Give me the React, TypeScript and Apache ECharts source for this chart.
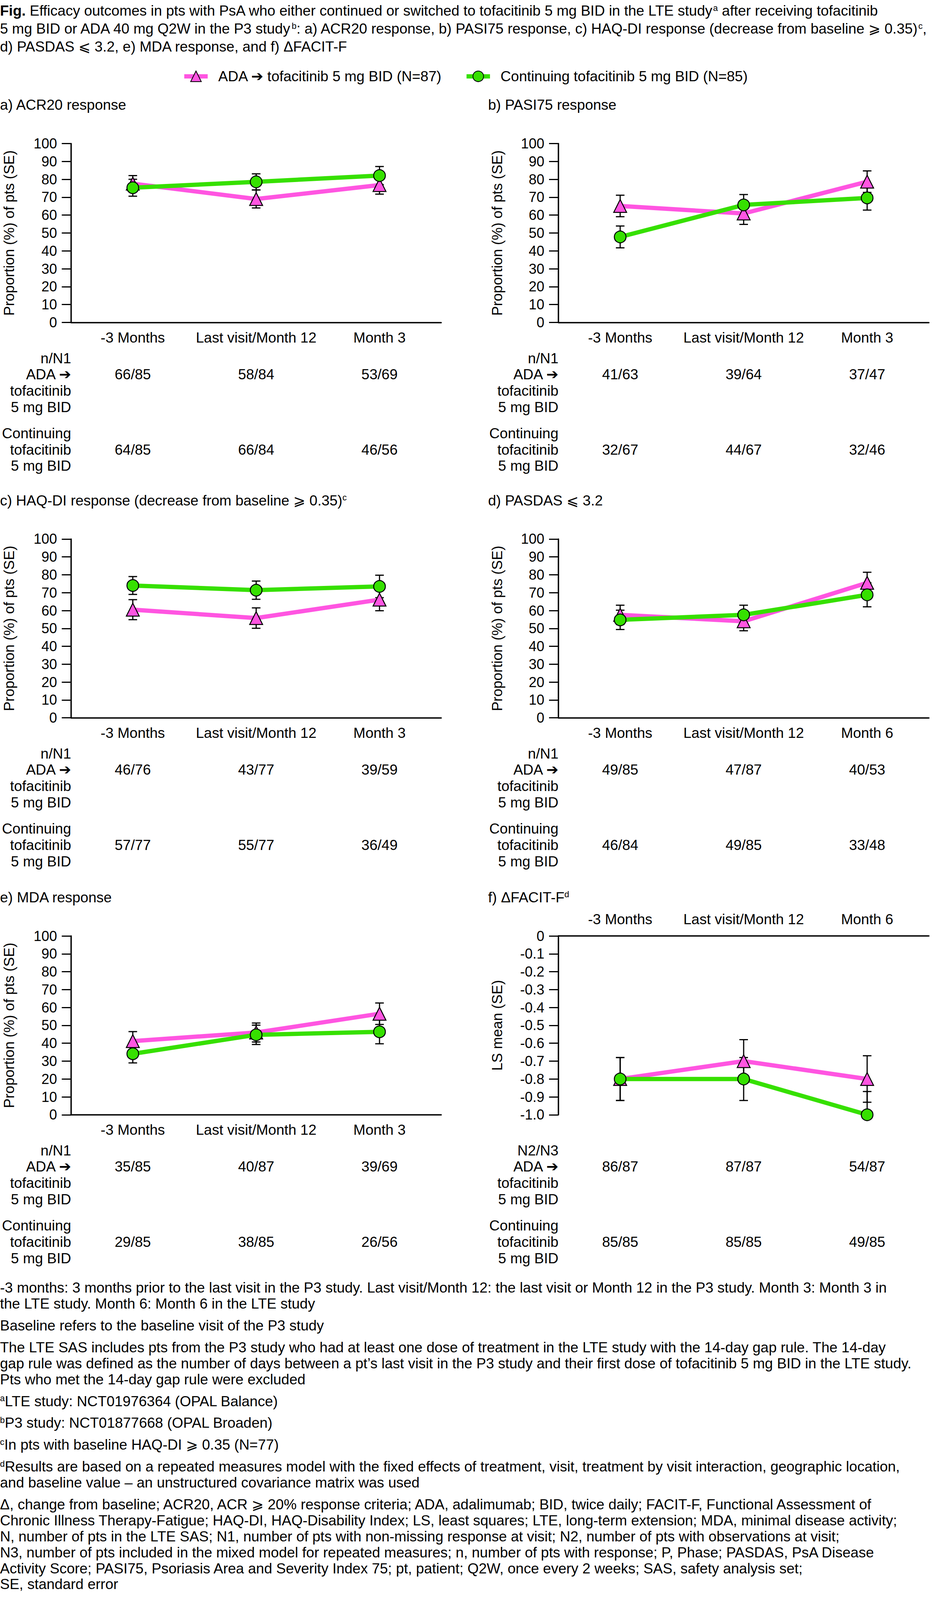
import React, { useEffect, useRef, useState } from "react";
import * as echarts from "echarts";

// ---------- data ----------
const categories3 = ["-3 Months", "Last visit/Month 12", "Month 3"];
const categories6 = ["-3 Months", "Last visit/Month 12", "Month 6"];

const seriesNames = ["ADA ➔ tofacitinib 5 mg BID (N=87)", "Continuing tofacitinib 5 mg BID (N=85)"];

// a) ACR20
const acrAda = [77.6, 69.0, 76.8];
const acrAdaSE = [4.5, 5.0, 5.1];
const acrCont = [75.3, 78.6, 82.1];
const acrContSE = [4.7, 4.5, 5.1];
const acrAdaN = ["66/85", "58/84", "53/69"];
const acrContN = ["64/85", "66/84", "46/56"];

// b) PASI75
const pasiAda = [65.1, 60.9, 78.7];
const pasiAdaSE = [6.0, 6.1, 6.0];
const pasiCont = [47.8, 65.7, 69.6];
const pasiContSE = [6.1, 5.8, 6.8];
const pasiAdaN = ["41/63", "39/64", "37/47"];
const pasiContN = ["32/67", "44/67", "32/46"];

// c) HAQ-DI
const haqAda = [60.5, 55.8, 66.1];
const haqAdaSE = [5.6, 5.7, 6.2];
const haqCont = [74.0, 71.4, 73.5];
const haqContSE = [5.0, 5.1, 6.3];
const haqAdaN = ["46/76", "43/77", "39/59"];
const haqContN = ["57/77", "55/77", "36/49"];

// d) PASDAS
const pasdasAda = [57.6, 54.0, 75.5];
const pasdasAdaSE = [5.4, 5.3, 5.9];
const pasdasCont = [54.8, 57.6, 68.8];
const pasdasContSE = [5.4, 5.4, 6.7];
const pasdasAdaN = ["49/85", "47/87", "40/53"];
const pasdasContN = ["46/84", "49/85", "33/48"];

// e) MDA
const mdaAda = [41.2, 46.0, 56.5];
const mdaAdaSE = [5.3, 5.3, 6.0];
const mdaCont = [34.1, 44.7, 46.4];
const mdaContSE = [5.1, 5.4, 6.7];
const mdaAdaN = ["35/85", "40/87", "39/69"];
const mdaContN = ["29/85", "38/85", "26/56"];

// f) FACIT-F
const facitAda = [-0.8, -0.7, -0.8];
const facitAdaSE = [0.12, 0.12, 0.13];
const facitCont = [-0.8, -0.8, -1.0];
const facitContSE = [0.12, 0.12, 0.13];
const facitAdaN = ["86/87", "87/87", "54/87"];
const facitContN = ["85/85", "85/85", "49/85"];

const titleLines = [
  "{b|Fig.} Efficacy outcomes in pts with PsA who either continued or switched to tofacitinib 5 mg BID in the LTE study{sup|a} after receiving tofacitinib",
  "5 mg BID or ADA 40 mg Q2W in the P3 study{sup|b}: a) ACR20 response, b) PASI75 response, c) HAQ-DI response (decrease from baseline ⩾ 0.35){sup|c},",
  "d) PASDAS ⩽ 3.2, e) MDA response, and f) ΔFACIT-F",
];

const footnoteParagraphs = [
  [
    "-3 months: 3 months prior to the last visit in the P3 study. Last visit/Month 12: the last visit or Month 12 in the P3 study. Month 3: Month 3 in",
    "the LTE study. Month 6: Month 6 in the LTE study",
  ],
  ["Baseline refers to the baseline visit of the P3 study"],
  [
    "The LTE SAS includes pts from the P3 study who had at least one dose of treatment in the LTE study with the 14-day gap rule. The 14-day",
    "gap rule was defined as the number of days between a pt’s last visit in the P3 study and their first dose of tofacitinib 5 mg BID in the LTE study.",
    "Pts who met the 14-day gap rule were excluded",
  ],
  ["{sup|a}LTE study: NCT01976364 (OPAL Balance)"],
  ["{sup|b}P3 study: NCT01877668 (OPAL Broaden)"],
  ["{sup|c}In pts with baseline HAQ-DI ⩾ 0.35 (N=77)"],
  [
    "{sup|d}Results are based on a repeated measures model with the fixed effects of treatment, visit, treatment by visit interaction, geographic location,",
    "and baseline value – an unstructured covariance matrix was used",
  ],
  [
    "Δ, change from baseline; ACR20, ACR ⩾ 20% response criteria; ADA, adalimumab; BID, twice daily; FACIT-F, Functional Assessment of",
    "Chronic Illness Therapy-Fatigue; HAQ-DI, HAQ-Disability Index; LS, least squares; LTE, long-term extension; MDA, minimal disease activity;",
    "N, number of pts in the LTE SAS; N1, number of pts with non-missing response at visit; N2, number of pts with observations at visit;",
    "N3, number of pts included in the mixed model for repeated measures; n, number of pts with response; P, Phase; PASDAS, PsA Disease",
    "Activity Score; PASI75, Psoriasis Area and Severity Index 75; pt, patient; Q2W, once every 2 weeks; SAS, safety analysis set;",
    "SE, standard error",
  ],
];

const panels = [
  { title: "a) ACR20 response", cats: categories3, ada: acrAda, adaSE: acrAdaSE, cont: acrCont, contSE: acrContSE, head: "n/N1", adaN: acrAdaN, contN: acrContN, col: 0, row: 0, ls: false, yName: "Proportion (%) of pts (SE)" },
  { title: "b) PASI75 response", cats: categories3, ada: pasiAda, adaSE: pasiAdaSE, cont: pasiCont, contSE: pasiContSE, head: "n/N1", adaN: pasiAdaN, contN: pasiContN, col: 1, row: 0, ls: false, yName: "Proportion (%) of pts (SE)" },
  { title: "c) HAQ-DI response (decrease from baseline ⩾ 0.35){sup|c}", cats: categories3, ada: haqAda, adaSE: haqAdaSE, cont: haqCont, contSE: haqContSE, head: "n/N1", adaN: haqAdaN, contN: haqContN, col: 0, row: 1, ls: false, yName: "Proportion (%) of pts (SE)" },
  { title: "d) PASDAS ⩽ 3.2", cats: categories6, ada: pasdasAda, adaSE: pasdasAdaSE, cont: pasdasCont, contSE: pasdasContSE, head: "n/N1", adaN: pasdasAdaN, contN: pasdasContN, col: 1, row: 1, ls: false, yName: "Proportion (%) of pts (SE)" },
  { title: "e) MDA response", cats: categories3, ada: mdaAda, adaSE: mdaAdaSE, cont: mdaCont, contSE: mdaContSE, head: "n/N1", adaN: mdaAdaN, contN: mdaContN, col: 0, row: 2, ls: false, yName: "Proportion (%) of pts (SE)" },
  { title: "f) ΔFACIT-F{sup|d}", cats: categories6, ada: facitAda, adaSE: facitAdaSE, cont: facitCont, contSE: facitContSE, head: "N2/N3", adaN: facitAdaN, contN: facitContN, col: 1, row: 2, ls: true, yName: "LS mean (SE)" },
];

// ---------- style ----------
const FS = 37;
const FF = "'Liberation Sans', Arial, Helvetica, 'DejaVu Sans', sans-serif";
const PINK = "#ff55e1";
const GREEN = "#36e000";
const ROW_STEP = 1088;
const PAGE_W = 2408;
const PAGE_H = 4402;

const rich = {
  b: { fontSize: FS, fontFamily: FF, fontWeight: "bold", fill: "#000" },
  sup: { fontSize: 22, fontFamily: FF, verticalAlign: "top", fill: "#000" },
  arr: { fontSize: FS, fontFamily: "'DejaVu Sans', sans-serif", fontWeight: "bold", fill: "#000" },
};

function arrowRich(s: string) {
  return s.replace("➔", "{arr|➔}");
}

function txt(x: number, y: number, text: string, extra: any = {}) {
  return {
    type: "text",
    x,
    y,
    silent: true,
    style: {
      text,
      fontSize: FS,
      fontFamily: FF,
      fill: "#000",
      textAlign: "left",
      textVerticalAlign: "middle",
      rich,
      ...extra,
    },
  };
}

function errorSeries(i: number, vals: number[], se: number[], name: string) {
  return {
    type: "custom",
    name: name + " SE",
    xAxisIndex: i,
    yAxisIndex: i,
    z: 2,
    clip: true,
    silent: true,
    encode: { x: 0, y: [1, 2] },
    data: vals.map((v, j) => [j, v - se[j], v + se[j]]),
    renderItem: (params: any, api: any) => {
      const x = api.value(0);
      const lo = api.coord([x, api.value(1)]);
      const hi = api.coord([x, api.value(2)]);
      const w = 11;
      const st = { stroke: "#000", lineWidth: 3 };
      return {
        type: "group",
        children: [
          { type: "line", shape: { x1: lo[0], y1: lo[1], x2: hi[0], y2: hi[1] }, style: st },
          { type: "line", shape: { x1: lo[0] - w, y1: lo[1], x2: lo[0] + w, y2: lo[1] }, style: st },
          { type: "line", shape: { x1: hi[0] - w, y1: hi[1], x2: hi[0] + w, y2: hi[1] }, style: st },
        ],
      };
    },
  };
}

export default function App() {
  const ref = useRef<HTMLDivElement>(null);
  const [dims] = useState(() => {
    const ih = typeof window !== "undefined" ? window.innerHeight : PAGE_H;
    const h = Math.min(PAGE_H, ih > 500 ? ih : PAGE_H);
    return { h, s: h / PAGE_H };
  });

  useEffect(() => {
    document.body.style.margin = "0";
    document.body.style.overflow = "hidden";
    const S = dims.s;
    const Y = (v: number) => v * S;
    const chart = echarts.init(ref.current!, null, { renderer: "svg" });
    const grids: any[] = [];
    const xAxes: any[] = [];
    const yAxes: any[] = [];
    const series: any[] = [];
    const layout: any[] = [];

    panels.forEach((p, i) => {
      const left = p.col === 0 ? 182 : 1429;
      const width = p.col === 0 ? 947 : 948;
      const base = p.row * ROW_STEP + (p.row === 2 ? 4 : 0);
      const top = 395 + base;
      layout.push({ left, width, top, base });
      grids.push({ left, top: Y(top), width, height: Y(492) });
      xAxes.push({
        type: "category",
        gridIndex: i,
        data: p.cats,
        position: p.ls ? "top" : "bottom",
        boundaryGap: true,
        axisLine: { show: true, onZero: false, lineStyle: { color: "#000", width: 3.5 } },
        axisTick: { show: false },
        axisLabel: { fontSize: FS, fontFamily: FF, color: "#000", margin: Y(p.ls ? 26 : 22), interval: 0 },
        splitLine: { show: false },
      });
      yAxes.push({
        type: "value",
        gridIndex: i,
        min: p.ls ? -1 : 0,
        max: p.ls ? 0 : 100,
        interval: p.ls ? 0.1 : 10,
        axisLine: { show: true, lineStyle: { color: "#000", width: 3.5 } },
        axisTick: { show: true, length: 24, lineStyle: { color: "#000", width: 3 } },
        axisLabel: {
          fontSize: 36,
          fontFamily: FF,
          color: "#000",
          margin: 36,
          formatter: p.ls ? (v: number) => (Math.abs(v) < 1e-9 ? "0" : v.toFixed(1)) : (v: number) => String(Math.round(v)),
        },
        splitLine: { show: false },
      });
      series.push(errorSeries(i, p.ada, p.adaSE, seriesNames[0]));
      series.push(errorSeries(i, p.cont, p.contSE, seriesNames[1]));
      series.push({
        type: "line",
        name: seriesNames[0],
        xAxisIndex: i,
        yAxisIndex: i,
        data: p.ada,
        z: 3,
        symbol: "triangle",
        symbolSize: 33,
        showAllSymbol: true,
        lineStyle: { color: PINK, width: 11 },
        itemStyle: { color: PINK, borderColor: "#000", borderWidth: 2.5 },
        emphasis: { disabled: true },
      });
      series.push({
        type: "line",
        name: seriesNames[1],
        xAxisIndex: i,
        yAxisIndex: i,
        data: p.cont,
        z: 4,
        symbol: "circle",
        symbolSize: 30,
        showAllSymbol: true,
        lineStyle: { color: GREEN, width: 11 },
        itemStyle: { color: GREEN, borderColor: "#000", borderWidth: 2.5 },
        emphasis: { disabled: true },
      });
    });

    chart.setOption({
      animation: false,
      backgroundColor: "#fff",
      legend: {
        data: seriesNames,
        left: 461,
        top: Y(203) - 17,
        itemWidth: 60,
        itemHeight: 34,
        itemGap: 57,
        selectedMode: false,
        lineStyle: { width: 11 },
        textStyle: { fontSize: FS, fontFamily: FF, color: "#000", padding: [0, 0, 0, 22] },
      },
      grid: grids,
      xAxis: xAxes,
      yAxis: yAxes,
      series,
    });

    const graphics: any[] = [];
    titleLines.forEach((t, k) => graphics.push(txt(0, Y(30 + k * 49), t)));

    panels.forEach((p, i) => {
      const L = layout[i];
      const B = L.base;
      const tx = p.col === 0 ? 0 : 1249;
      graphics.push(txt(tx, Y(289 + B), p.title));
      const nameX = p.col === 0 ? 23 : 1272;
      graphics.push({
        type: "text",
        x: nameX,
        y: Y(L.top + 246),
        rotation: Math.PI / 2,
        silent: true,
        style: { text: p.yName, fontSize: FS, fontFamily: FF, fill: "#000", textAlign: "center", textVerticalAlign: "middle" },
      });
      const rx = L.left;
      const right = { textAlign: "right" };
      graphics.push(txt(rx, Y(986 + B), p.head, right));
      graphics.push(txt(rx, Y(1030 + B), arrowRich("ADA ➔"), right));
      graphics.push(txt(rx, Y(1075 + B), "tofacitinib", right));
      graphics.push(txt(rx, Y(1120 + B), "5 mg BID", right));
      graphics.push(txt(rx, Y(1192 + B), "Continuing", right));
      graphics.push(txt(rx, Y(1237 + B), "tofacitinib", right));
      graphics.push(txt(rx, Y(1282 + B), "5 mg BID", right));
      p.cats.forEach((c, j) => {
        const pt = chart.convertToPixel({ gridIndex: i } as any, [j, p.ls ? -0.5 : 50]) as number[];
        graphics.push(txt(pt[0], Y(1030 + B), p.adaN[j], { textAlign: "center" }));
        graphics.push(txt(pt[0], Y(1237 + B), p.contN[j], { textAlign: "center" }));
      });
    });

    let fy = 3543;
    footnoteParagraphs.forEach((para, pi) => {
      if (pi > 0) fy += 16;
      para.forEach((line) => {
        graphics.push(txt(0, Y(fy), line));
        fy += 44;
      });
    });

    chart.setOption({ graphic: graphics });

    return () => chart.dispose();
  }, []);

  return <div ref={ref} style={{ width: PAGE_W, height: dims.h, background: "#fff" }} />;
}
